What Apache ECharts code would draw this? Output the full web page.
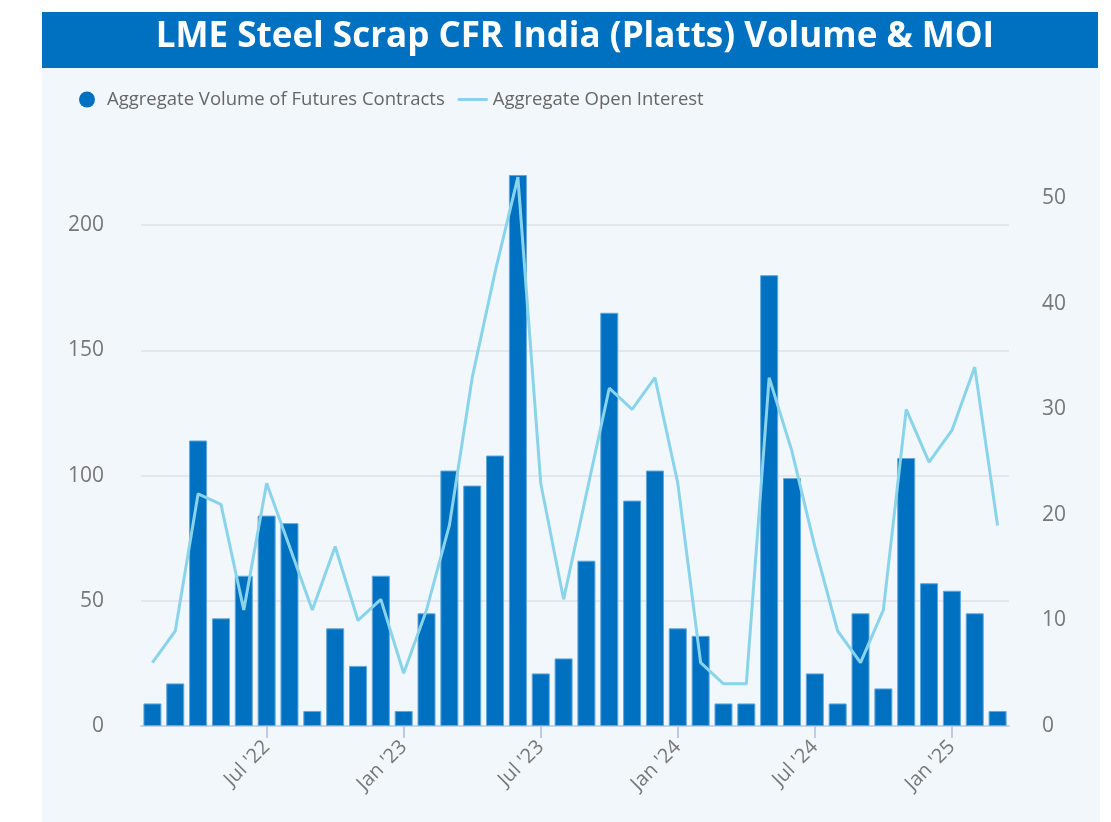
<!DOCTYPE html>
<html>
<head>
<meta charset="utf-8">
<script src="https://cdn.jsdelivr.net/npm/echarts@6/dist/echarts.min.js"></script>
<style>
  html, body { margin: 0; padding: 0; background: #fff; }
  #chart { width: 1111px; height: 822px; }
</style>
</head>
<body>
<div id="chart"></div>
<script>
// months Feb 2022 .. Mar 2025
var months = [
  "Feb '22", "Mar '22", "Apr '22", "May '22", "Jun '22", "Jul '22", "Aug '22", "Sep '22", "Oct '22", "Nov '22", "Dec '22",
  "Jan '23", "Feb '23", "Mar '23", "Apr '23", "May '23", "Jun '23", "Jul '23", "Aug '23", "Sep '23", "Oct '23", "Nov '23", "Dec '23",
  "Jan '24", "Feb '24", "Mar '24", "Apr '24", "May '24", "Jun '24", "Jul '24", "Aug '24", "Sep '24", "Oct '24", "Nov '24", "Dec '24",
  "Jan '25", "Feb '25", "Mar '25"
];
var shownLabels = ["Jul '22", "Jan '23", "Jul '23", "Jan '24", "Jul '24", "Jan '25"];

var volume = [
  9, 17, 114, 43, 60, 84, 81, 6, 39, 24, 60,
  6, 45, 102, 96, 108, 220, 21, 27, 66, 165, 90, 102,
  39, 36, 9, 9, 180, 99, 21, 9, 45, 15, 107, 57,
  54, 45, 6
];
var openInterest = [
  6, 9, 22, 21, 11, 23, 17, 11, 17, 10, 12,
  5, 11, 19, 33, 43, 52, 23, 12, 22, 32, 30, 33,
  23, 6, 4, 4, 33, 26, 17, 9, 6, 11, 30, 25,
  28, 34, 19
];

var volName = 'Aggregate Volume of Futures Contracts';
var oiName = 'Aggregate Open Interest';

function isShown(i) {
  return shownLabels.indexOf(months[i]) >= 0;
}

var myChart = echarts.init(document.getElementById('chart'));
myChart.setOption({
  animation: false,
  graphic: [
    { type: 'rect', z: 0, shape: { x: 42, y: 68, width: 1058, height: 754 }, style: { fill: '#F2F7FB' } },
    { type: 'rect', z: 0, shape: { x: 42, y: 12, width: 1056, height: 56 }, style: { fill: '#0070C0' } }
  ],
  title: {
    text: 'LME Steel Scrap CFR India (Platts) Volume & MOI',
    left: 570,
    textAlign: 'center',
    top: 15,
    z: 10,
    textStyle: { color: '#fff', fontFamily: 'Open Sans', fontWeight: 'bold', fontSize: 35 }
  },
  legend: {
    left: 74,
    top: 85,
    itemGap: 13,
    itemWidth: 30,
    itemHeight: 16,
    textStyle: { color: '#666', fontSize: 18.5, fontFamily: 'Open Sans' },
    data: [
      { name: volName, icon: 'circle', itemStyle: { borderWidth: 0 } },
      { name: oiName, icon: 'path://M0,0 L30,0 L30,3 L0,3 Z', itemStyle: { color: '#8AD4EB' } }
    ]
  },
  grid: { left: 141, right: 102, top: 175, bottom: 96 },
  xAxis: {
    type: 'category',
    data: months,
    axisLine: { lineStyle: { color: '#C9D3E6', width: 2 } },
    axisTick: {
      show: true,
      alignWithLabel: true,
      length: 12,
      lineStyle: { color: '#BFCBE2', width: 2 },
      interval: function (i) { return isShown(i); }
    },
    axisLabel: {
      rotate: 45,
      margin: 18,
      color: '#777',
      fontSize: 20,
      fontFamily: 'Open Sans',
      interval: function (i) { return isShown(i); }
    }
  },
  yAxis: [
    {
      type: 'value',
      min: 0,
      max: 220,
      interval: 50,
      axisLine: { show: false },
      axisTick: { show: false },
      axisLabel: { showMaxLabel: false, margin: 37, color: '#777', fontSize: 21, fontFamily: 'Open Sans' },
      splitLine: {
        lineStyle: { color: ['transparent', '#E3E7EC', '#E3E7EC', '#E3E7EC', '#E3E7EC', 'transparent'], width: 2 }
      }
    },
    {
      type: 'value',
      min: 0,
      max: 52.2,
      interval: 10,
      axisLine: { show: false },
      axisTick: { show: false },
      axisLabel: { showMaxLabel: false, margin: 33, color: '#777', fontSize: 21, fontFamily: 'Open Sans' },
      splitLine: { show: false }
    }
  ],
  series: [
    {
      name: volName,
      type: 'bar',
      data: volume,
      barWidth: 18,
      itemStyle: { color: '#0070C0', borderColor: '#5FA8DC', borderWidth: 1 }
    },
    {
      name: oiName,
      type: 'line',
      yAxisIndex: 1,
      data: openInterest,
      symbol: 'none',
      lineStyle: { color: '#8AD4EB', width: 3 },
      itemStyle: { color: '#8AD4EB' }
    }
  ]
});
</script>
</body>
</html>
